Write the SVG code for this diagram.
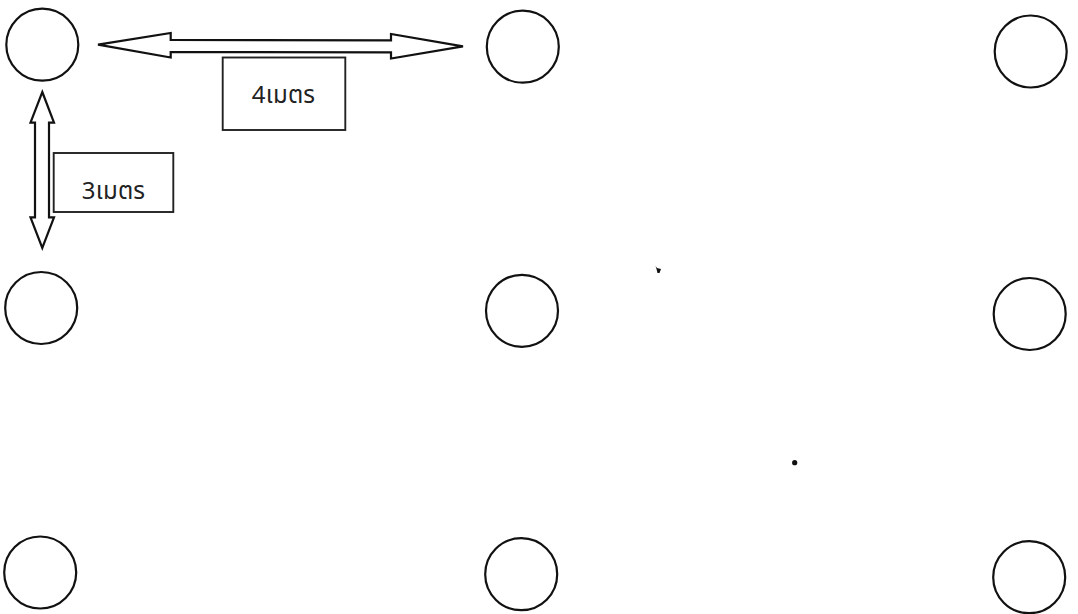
<svg xmlns="http://www.w3.org/2000/svg" width="1078" height="614" viewBox="0 0 1078 614">
<style>
.n{fill:#fff;stroke:#111;stroke-width:2.200}
.a{fill:#fff;stroke:#111;stroke-width:2.200;stroke-linejoin:miter}
.b{fill:#fff;stroke:#222;stroke-width:1.900}
.t{font-family:"Noto Sans","Noto Sans Thai","DejaVu Sans",sans-serif;font-size:24px;letter-spacing:0.200px;fill:#222;text-anchor:middle}
.d{fill:#111;stroke:none}
</style>
<rect width="1078" height="614" fill="#fff"/>
<g id="n1"><circle class="n" cx="42.300" cy="44.700" r="36"/></g>
<g id="n2"><circle class="n" cx="522.800" cy="46.700" r="36"/></g>
<g id="n3"><circle class="n" cx="1030.700" cy="51.500" r="36"/></g>
<g id="n4"><circle class="n" cx="41.200" cy="308" r="36"/></g>
<g id="n5"><circle class="n" cx="522" cy="310.800" r="36"/></g>
<g id="n6"><circle class="n" cx="1029.700" cy="314" r="36"/></g>
<g id="n7"><circle class="n" cx="40.200" cy="572.500" r="36"/></g>
<g id="n8"><circle class="n" cx="521.200" cy="574.200" r="36"/></g>
<g id="n9"><circle class="n" cx="1029.200" cy="577.200" r="36"/></g>
<g id="connectors">
<path class="a" d="M98 44.700 L170.700 33 V40 L391 40.300 V34 L463 46.300 L391 58.500 V52.300 L170.700 52 V57.500 Z"/>
<path class="a" d="M42.300 92 L54 122.700 H49 V217.300 H54 L42.300 248 L30.500 217.300 H35 V122.700 H30.500 Z"/>
</g>
<g id="label4"><rect class="b" x="222.700" y="57.500" width="122.600" height="72.500"/><text class="t" x="283.500" y="103">4เมตร</text></g>
<g id="label3"><rect class="b" x="53.700" y="153" width="119.600" height="59"/><text class="t" x="113.500" y="199">3เมตร</text></g>
<path class="d" d="M655.500 266 L657 268 L661 269 L659.500 273 L657.500 273 L656.500 269 Z"/>
<circle class="d" cx="794.700" cy="462.700" r="2.600"/>
</svg>
